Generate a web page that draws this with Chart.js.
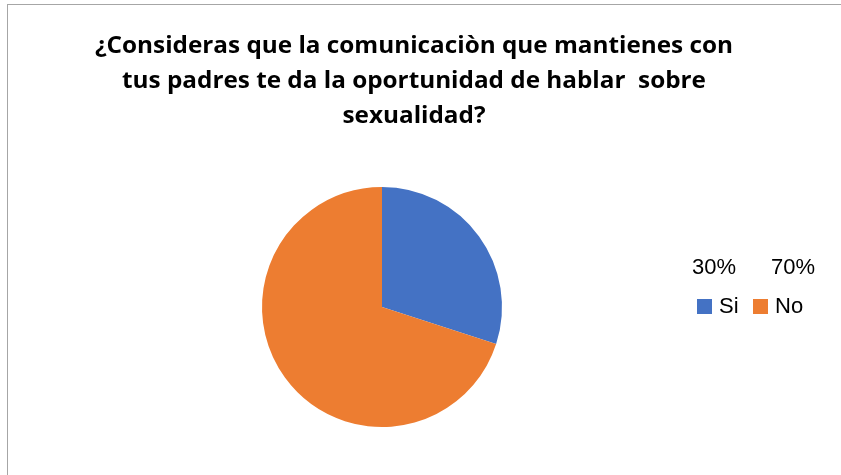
<!DOCTYPE html>
<html>
<head>
<meta charset="utf-8">
<script src="https://cdn.jsdelivr.net/npm/chart.js@4.4.1/dist/chart.umd.min.js"></script>
<style>
    html, body { margin: 0; padding: 0; background: #fff; overflow: hidden; }
    #frame {
        position: absolute;
        left: 7px;
        top: 4px;
        width: 840px;
        height: 480px;
        border-left: 1.5px solid #a6a6a6;
        border-top: 1.5px solid #a6a6a6;
    }
    #wrap {
        position: absolute;
        left: 8px;
        top: 5px;
        width: 812px;
        height: 470px;
    }
</style>
</head>
<body>
<div id="frame"></div>
<div id="wrap"><canvas id="chart"></canvas></div>
<script>
const titleLines = [
    '¿Consideras que la comunicaciòn que mantienes con',
    'tus padres te da la oportunidad de hablar  sobre',
    'sexualidad?'
];
const categories = ['Si', 'No'];
const shares = [30, 70];
const sliceColors = ['#4472C4', '#ED7D31'];

// Title drawn by hand so it is not squeezed into the pie's padded box
const titleBlock = {
    id: 'titleBlock',
    afterDraw(chart) {
        const ctx = chart.ctx;
        ctx.save();
        ctx.font = 'bold 24px "Open Sans", "Liberation Sans", sans-serif';
        ctx.fillStyle = '#000';
        ctx.textAlign = 'center';
        ctx.textBaseline = 'alphabetic';
        // match the Calibri line width of the original
        const w = ctx.measureText(titleLines[0]).width;
        const sx = 638 / w;
        ctx.translate(406, 0);
        ctx.scale(sx, 1);
        titleLines.forEach((line, i) => {
            ctx.fillText(line, 0, 48 + i * 35);
        });
        ctx.restore();
    }
};

// Excel-style legend: percentages on one row, colour keys below
const sideLegend = {
    id: 'sideLegend',
    afterDraw(chart) {
        const ctx = chart.ctx;
        const pctX = [684, 763];
        const keyX = [689, 745];
        ctx.save();
        ctx.font = '22px "Liberation Sans", Arial, sans-serif';
        ctx.fillStyle = '#000';
        ctx.textBaseline = 'middle';
        ctx.textAlign = 'left';
        shares.forEach((v, i) => {
            ctx.fillText(v + '%', pctX[i], 263);
        });
        categories.forEach((c, i) => {
            ctx.fillStyle = sliceColors[i];
            ctx.fillRect(keyX[i], 294, 15, 15);
            ctx.fillStyle = '#000';
            ctx.fillText(c, keyX[i] + 22, 302);
        });
        ctx.restore();
    }
};

new Chart(document.getElementById('chart'), {
    type: 'pie',
    data: {
        labels: categories,
        datasets: [{
            data: shares,
            backgroundColor: sliceColors,
            borderWidth: 0
        }]
    },
    options: {
        responsive: true,
        maintainAspectRatio: false,
        animation: false,
        layout: {
            padding: { top: 182, left: 254, right: 318, bottom: 48 }
        },
        plugins: {
            legend: { display: false },
            tooltip: { enabled: false },
            title: { display: false }
        }
    },
    plugins: [titleBlock, sideLegend]
});
</script>
</body>
</html>
